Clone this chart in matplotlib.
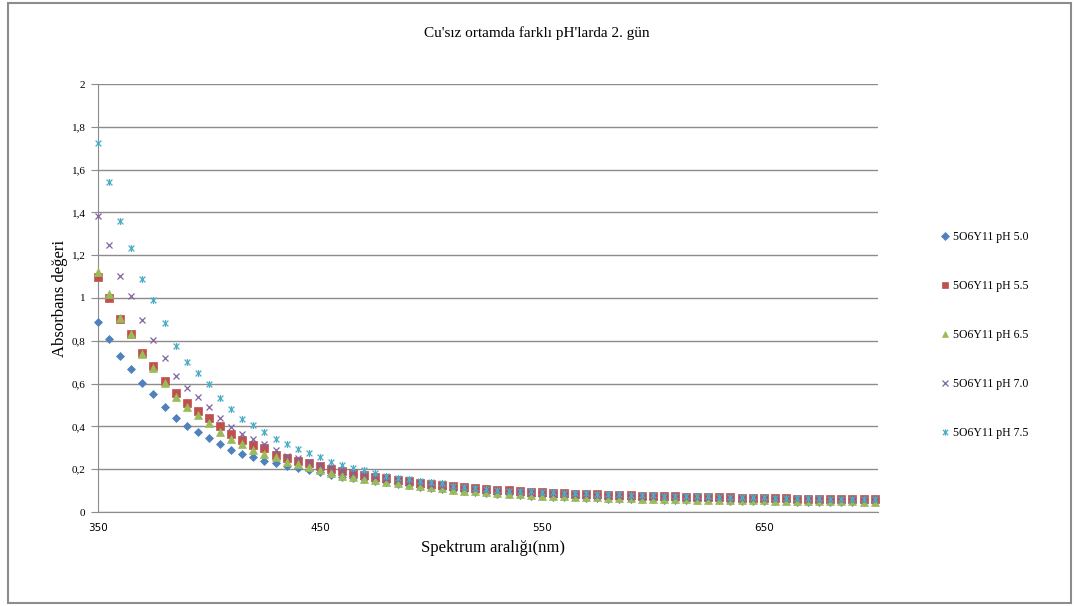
import matplotlib
matplotlib.use('Agg')
import matplotlib.pyplot as plt
from matplotlib.path import Path
from matplotlib.patches import Rectangle
from matplotlib.ticker import FuncFormatter, MultipleLocator

# wavelength 350-700 nm, step 5
wavelength = list(range(350, 701, 5))
xticks = [350, 450, 550, 650]

ph50 = [0.89, 0.81, 0.73, 0.67, 0.605, 0.55, 0.49, 0.44, 0.40, 0.372,
        0.347, 0.32, 0.29, 0.27, 0.258, 0.24, 0.228, 0.214, 0.205, 0.196,
        0.186, 0.175, 0.165, 0.158, 0.152, 0.146, 0.138, 0.13, 0.124, 0.118,
        0.112, 0.107, 0.102, 0.097, 0.093, 0.089, 0.085, 0.082, 0.079, 0.076,
        0.074, 0.072, 0.070, 0.068, 0.066, 0.065, 0.063, 0.062, 0.061, 0.060,
        0.059, 0.058, 0.057, 0.056, 0.055, 0.054, 0.054, 0.053, 0.052, 0.052,
        0.051, 0.050, 0.050, 0.049, 0.049, 0.048, 0.048, 0.047, 0.047, 0.046,
        0.046]
ph55 = [1.10, 1.00, 0.90, 0.83, 0.745, 0.68, 0.614, 0.555, 0.508, 0.472,
        0.441, 0.402, 0.364, 0.336, 0.313, 0.297, 0.268, 0.252, 0.240, 0.230,
        0.215, 0.202, 0.19, 0.18, 0.172, 0.165, 0.157, 0.15, 0.143, 0.137,
        0.131, 0.126, 0.121, 0.116, 0.112, 0.108, 0.104, 0.101, 0.098, 0.095,
        0.092, 0.090, 0.088, 0.086, 0.084, 0.082, 0.080, 0.079, 0.078, 0.076,
        0.075, 0.074, 0.073, 0.072, 0.071, 0.070, 0.069, 0.068, 0.067, 0.066,
        0.065, 0.064, 0.064, 0.063, 0.062, 0.062, 0.061, 0.061, 0.060, 0.060,
        0.059]
ph65 = [1.12, 1.02, 0.905, 0.83, 0.74, 0.675, 0.604, 0.539, 0.492, 0.453,
        0.417, 0.375, 0.343, 0.318, 0.29, 0.271, 0.258, 0.235, 0.224, 0.212,
        0.196, 0.182, 0.17, 0.162, 0.156, 0.15, 0.142, 0.134, 0.127, 0.121,
        0.115, 0.11, 0.105, 0.1, 0.096, 0.092, 0.088, 0.085, 0.082, 0.079,
        0.077, 0.075, 0.073, 0.071, 0.069, 0.068, 0.066, 0.065, 0.064, 0.063,
        0.062, 0.061, 0.060, 0.059, 0.058, 0.057, 0.057, 0.056, 0.055, 0.055,
        0.054, 0.053, 0.053, 0.052, 0.052, 0.051, 0.051, 0.050, 0.050, 0.049,
        0.049]
ph70 = [1.385, 1.248, 1.104, 1.009, 0.895, 0.804, 0.721, 0.637, 0.581, 0.536,
        0.489, 0.441, 0.399, 0.364, 0.34, 0.316, 0.288, 0.262, 0.251, 0.235,
        0.22, 0.205, 0.192, 0.182, 0.173, 0.165, 0.156, 0.148, 0.141, 0.134,
        0.128, 0.122, 0.117, 0.112, 0.107, 0.103, 0.099, 0.096, 0.093, 0.09,
        0.087, 0.085, 0.083, 0.081, 0.079, 0.077, 0.075, 0.074, 0.072, 0.071,
        0.070, 0.069, 0.068, 0.067, 0.066, 0.065, 0.064, 0.063, 0.062, 0.062,
        0.061, 0.060, 0.060, 0.059, 0.058, 0.058, 0.057, 0.057, 0.056, 0.056,
        0.055]
ph75 = [1.726, 1.543, 1.36, 1.235, 1.09, 0.991, 0.885, 0.776, 0.702, 0.651,
        0.597, 0.531, 0.48, 0.435, 0.407, 0.375, 0.34, 0.316, 0.293, 0.274,
        0.256, 0.232, 0.22, 0.207, 0.196, 0.184, 0.168, 0.157, 0.154, 0.145,
        0.142, 0.134, 0.123, 0.115, 0.111, 0.106, 0.103, 0.1, 0.098, 0.097,
        0.095, 0.093, 0.091, 0.089, 0.087, 0.085, 0.083, 0.082, 0.080, 0.079,
        0.078, 0.077, 0.076, 0.075, 0.074, 0.073, 0.072, 0.071, 0.070, 0.069,
        0.068, 0.067, 0.066, 0.066, 0.065, 0.064, 0.063, 0.063, 0.062, 0.061,
        0.060]

labels = ['5O6Y11 pH 5.0', '5O6Y11 pH 5.5', '5O6Y11 pH 6.5',
          '5O6Y11 pH 7.0', '5O6Y11 pH 7.5']

# excel style star marker: an x with a vertical bar
star = Path([(-1, -1), (1, 1), (-1, 1), (1, -1), (0, -1.2), (0, 1.2)],
            [Path.MOVETO, Path.LINETO, Path.MOVETO, Path.LINETO, Path.MOVETO, Path.LINETO])

styles = [
    dict(marker='D', color='#4F81BD', ms=4.4),
    dict(marker='s', color='#C0504D', ms=5.2),
    dict(marker='^', color='#9BBB59', ms=5.4),
    dict(marker='x', color='#8064A2', ms=5.0, mew=0.9),
    dict(marker=star, color='#4BACC6', ms=5.0, mew=0.9),
]

serif = 'Liberation Serif'

fig = plt.figure(figsize=(10.74, 6.06), dpi=100)
ax = fig.add_axes([98/1074, 1 - 512/606, 780/1074, 428/606])

for ys, lab, st in zip([ph50, ph55, ph65, ph70, ph75], labels, styles):
    ax.plot(wavelength, ys, linestyle='none', marker=st['marker'], color=st['color'],
            markersize=st['ms'], markeredgewidth=st.get('mew', 0.5),
            label=lab, clip_on=False, zorder=3)

ax.set_xlim(350, 701.5)
ax.set_ylim(0, 2)
ax.set_xticks(xticks)
ax.yaxis.set_major_locator(MultipleLocator(0.2))
ax.yaxis.set_major_formatter(FuncFormatter(lambda v, p: ('%g' % round(v, 1)).replace('.', ',')))

ax.grid(axis='y', color='#8c8c8c', linewidth=1.0)
ax.set_axisbelow(True)
for s in ['top', 'right']:
    ax.spines[s].set_visible(False)
ax.spines['left'].set_color('#8c8c8c')
ax.spines['bottom'].set_color('#8c8c8c')
ax.tick_params(axis='y', length=5, color='#8c8c8c', labelsize=8, pad=4)
ax.tick_params(axis='x', length=0, labelsize=8, pad=8)
for t in ax.get_yticklabels():
    t.set_fontfamily(serif)
for t in ax.get_xticklabels():
    t.set_fontfamily('DejaVu Sans')
    t.set_fontsize(7.5)

fig.text(0.5, 1 - 33/606, "Cu'sız ortamda farklı pH'larda 2. gün", ha='center', va='center',
         fontsize=11, family=serif)
fig.text(60/1074, 1 - 298/606, 'Absorbans değeri', rotation=90, ha='center', va='center',
         fontsize=12, family=serif)
fig.text(493/1074, 1 - 548/606, 'Spektrum aralığı(nm)', ha='center', va='center',
         fontsize=12, family=serif)

leg = fig.legend(loc='upper left', bbox_to_anchor=(936/1074, 1 - 226/606), frameon=False,
                 prop={'family': serif, 'size': 8.5}, labelspacing=3.15,
                 handlelength=0.8, handletextpad=0.2, borderaxespad=0, markerscale=0.9)

fig.patches.append(Rectangle((8/1074, 3/606), 1063/1074, 600/606, transform=fig.transFigure,
                             fill=False, edgecolor='#8c8c8c', linewidth=1.5))

fig.savefig('out.png', dpi=100)
